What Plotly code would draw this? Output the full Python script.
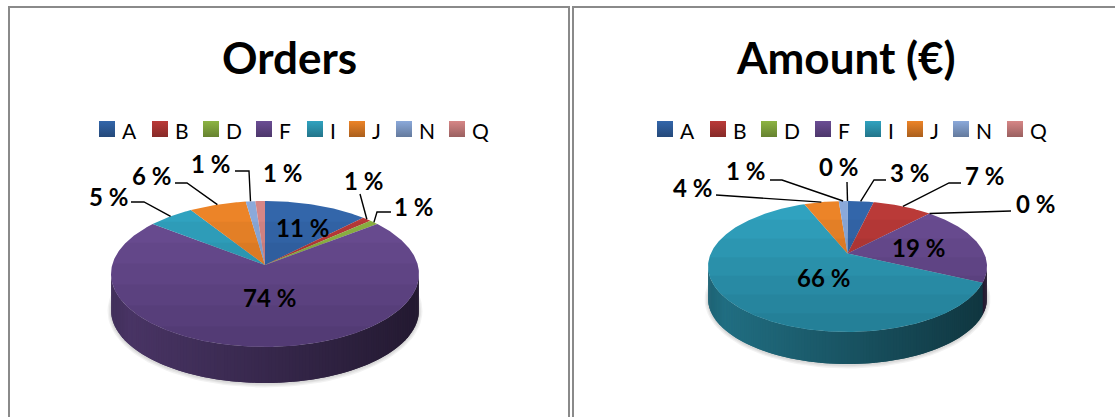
import math
import plotly.graph_objects as go

# ---- data -------------------------------------------------------------
categories = ["A", "B", "D", "F", "I", "J", "N", "Q"]
orders_pct = [11, 1, 1, 74, 5, 6, 1, 1]
amount_pct = [3, 7, 0, 19, 66, 4, 1, 0]
titles = ["Orders", "Amount (€)"]

# ---- style ------------------------------------------------------------
W, H = 1115, 417
FONT = "Lato"
slice_colors = ["#3366AA", "#BA3A38", "#8DB443", "#6B4D94",
                "#30A2BF", "#EC8428", "#8BA9DA", "#D68686"]


def hex_rgb(h):
    h = h.lstrip("#")
    return tuple(int(h[i:i + 2], 16) for i in (0, 2, 4))


def shade(h, f):
    r, g, b = hex_rgb(h)
    return "rgb(%d,%d,%d)" % (round(r * f), round(g * f), round(b * f))


# pie geometry (pixel space) and label / legend layout per panel
panels = [
    dict(values=orders_pct, title=titles[0], title_x=289,
         legend_left=[99, 152, 203, 256, 307, 349, 396, 449],
         cx=265, cy=274, rx=154, ry=73, apex=-9, depth=36,
         label_xy=[(302, 227), (363, 180), (413, 206), (269, 297),
                   (108, 196), (151, 175), (210, 163), (282, 172)],
         leaders=[None, [(360, 194)], [(377, 212), (391, 212)], None,
                  [(144, 202), (131, 202)], [(187, 183), (175, 183)],
                  [(249, 171), (235, 171)], None]),
    dict(values=amount_pct, title=titles[1], title_x=846,
         legend_left=[657, 710, 761, 815, 865, 907, 953, 1007],
         cx=847.5, cy=266.5, rx=139.5, ry=65.5, apex=-13, depth=32,
         label_xy=[(909, 172), (984, 175), (1035, 203), (918, 247),
                   (823, 277), (692, 187), (745, 170), (838, 166)],
         leaders=[[(874, 180), (886, 180)], [(949, 183), (961, 183)],
                  [(1011, 211)], None, None, [(716, 195)],
                  [(782, 180), (770, 180)], [(847, 182)]]),
]
LEGEND_Y = 129

fig = go.Figure()


def rim(p, t, dy=0.0, grow=0.0):
    return (p["cx"] + (p["rx"] + grow) * math.sin(t),
            p["cy"] + dy - (p["ry"] + grow) * math.cos(t))


for p in panels:
    vals = p["values"]
    total = float(sum(vals))
    bounds = [0.0]
    for v in vals:
        bounds.append(bounds[-1] + v / total * 2 * math.pi)

    def slice_at(t):
        for i in range(len(vals)):
            if bounds[i] <= t < bounds[i + 1]:
                return i
        return len(vals) - 1

    d = p["depth"]

    # faint drop shadow around the base
    for g in (3.5, 2.2, 1.0):
        xs, ys = [], []
        for j in range(121):
            x, y = rim(p, 2 * math.pi * j / 120, dy=d + 1, grow=g)
            xs.append(x)
            ys.append(y)
        fig.add_trace(go.Scatter(
            x=xs, y=ys, mode="lines", fill="toself",
            fillcolor="rgba(0,0,0,0.05)", line=dict(width=0),
            hoverinfo="skip", showlegend=False))

    # side wall (front half of the cylinder), shaded left -> right
    n_strips = 140
    step = math.pi / n_strips
    for k in range(n_strips):
        t1 = math.pi / 2 + step * k
        t2 = min(t1 + 2 * step, 1.5 * math.pi)
        tm = t1 + 0.5 * step
        xm, _ = rim(p, tm)
        u = (xm - (p["cx"] - p["rx"])) / (2 * p["rx"])
        f = 0.70 - 0.37 * u
        if u < 0.06:
            f -= (0.06 - u) * 1.6
        col = shade(slice_colors[slice_at(tm)], f)
        xs, ys = [], []
        for j in range(3):
            x, y = rim(p, t1 + (t2 - t1) * j / 2)
            xs.append(x)
            ys.append(y)
        for j in range(2, -1, -1):
            x, y = rim(p, t1 + (t2 - t1) * j / 2, dy=d)
            xs.append(x)
            ys.append(y)
        xs.append(xs[0])
        ys.append(ys[0])
        fig.add_trace(go.Scatter(
            x=xs, y=ys, mode="lines", fill="toself", fillcolor=col,
            line=dict(width=0), hoverinfo="skip", showlegend=False))

    # top face slices
    ax, ay = p["cx"], p["cy"] + p["apex"]
    for i, v in enumerate(vals):
        t0, t1 = bounds[i], bounds[i + 1]
        if t1 - t0 <= 0:
            continue
        n = max(3, int((t1 - t0) / 0.01))
        xs, ys = [ax], [ay]
        for j in range(n + 1):
            x, y = rim(p, t0 + (t1 - t0) * j / n)
            xs.append(x)
            ys.append(y)
        xs.append(ax)
        ys.append(ay)
        fig.add_trace(go.Scatter(
            x=xs, y=ys, mode="lines", fill="toself",
            fillcolor=slice_colors[i], line=dict(width=0),
            hoverinfo="skip", showlegend=False))

    # soft top-to-bottom lighting on the top face
    for k in range(1, 7):
        y0 = p["cy"] - p["ry"] + 2 * p["ry"] * k / 7
        c0 = (y0 - p["cy"]) / p["ry"]
        a = math.acos(max(-1.0, min(1.0, -c0)))
        xs, ys = [], []
        for j in range(61):
            t = a + (2 * math.pi - 2 * a) * j / 60
            x, y = rim(p, t)
            xs.append(x)
            ys.append(y)
        xs.append(xs[0])
        ys.append(ys[0])
        fig.add_trace(go.Scatter(
            x=xs, y=ys, mode="lines", fill="toself",
            fillcolor="rgba(0,0,0,0.035)", line=dict(width=0),
            hoverinfo="skip", showlegend=False))

    # leader lines
    for i, pts in enumerate(p["leaders"]):
        if not pts:
            continue
        tm = 0.5 * (bounds[i] + bounds[i + 1])
        sx, sy = rim(p, tm)
        xs = [sx] + [q[0] for q in pts]
        ys = [sy] + [q[1] for q in pts]
        fig.add_trace(go.Scatter(
            x=xs, y=ys, mode="lines", line=dict(color="#000000", width=1.4),
            hoverinfo="skip", showlegend=False))

    # data labels
    for i, v in enumerate(vals):
        lx, ly = p["label_xy"][i]
        fig.add_annotation(x=lx, y=ly, text="%d %%" % v, showarrow=False,
                           xanchor="center", yanchor="middle",
                           font=dict(family=FONT, size=24, color="#000000",
                                     weight="bold"))

    # legend: gradient squares with category names
    for i, c in enumerate(categories):
        lx = p["legend_left"][i]
        fig.add_trace(go.Scatter(
            x=[lx + 8], y=[LEGEND_Y], mode="markers",
            marker=dict(symbol="square", size=16, color=slice_colors[i],
                        gradient=dict(type="vertical",
                                      color=shade(slice_colors[i], 0.72)),
                        line=dict(width=0)),
            hoverinfo="skip", showlegend=False))
        fig.add_annotation(x=lx + 21, y=LEGEND_Y + 1, text=c, showarrow=False,
                           xanchor="left", yanchor="middle",
                           font=dict(family=FONT, size=21, color="#000000"))

    # title
    fig.add_annotation(x=p["title_x"], y=57, text=p["title"], showarrow=False,
                       xanchor="center", yanchor="middle",
                       font=dict(family=FONT, size=44, color="#000000",
                                 weight="bold"))

# chart-area frames
for x0, x1 in [(9, 569), (573, 1130)]:
    fig.add_shape(type="rect", x0=x0, x1=x1, y0=7, y1=440,
                  line=dict(color="#8A8A8A", width=2), layer="below")

fig.update_layout(
    width=W, height=H,
    margin=dict(l=0, r=0, t=0, b=0),
    paper_bgcolor="white", plot_bgcolor="white",
    xaxis=dict(range=[0, W], visible=False, fixedrange=True),
    yaxis=dict(range=[H, 0], visible=False, fixedrange=True),
    showlegend=False,
)

fig.write_html("out.html")
